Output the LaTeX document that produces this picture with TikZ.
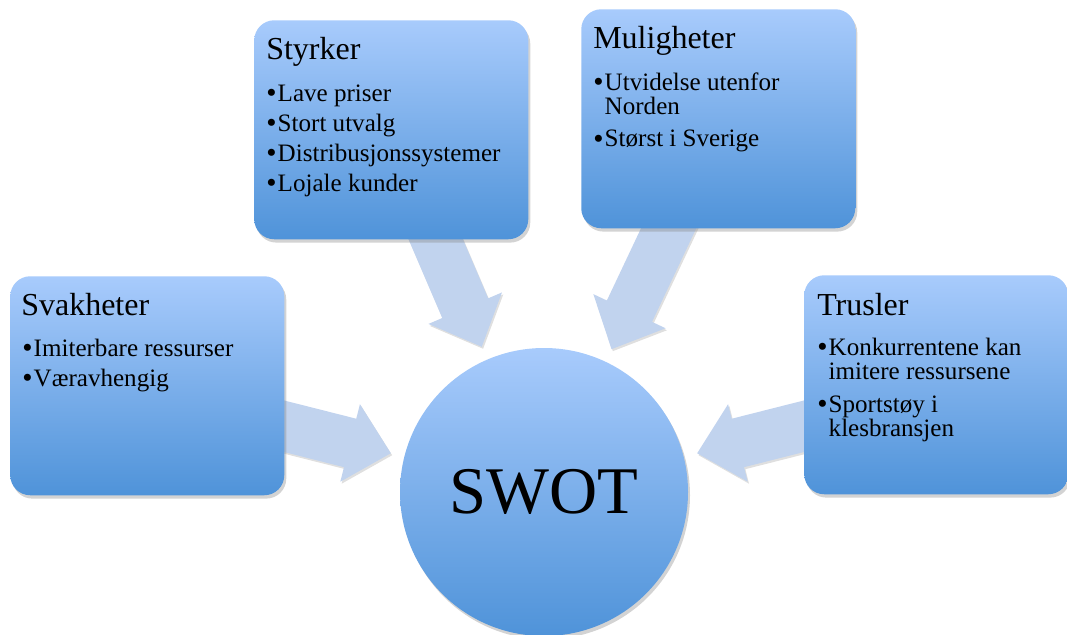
\documentclass[tikz,border=0pt]{standalone}
\usepackage{fontspec}
\setmainfont{Liberation Serif}
\usetikzlibrary{calc,shadows}

\definecolor{boxtop}{RGB}{168,203,252}
\definecolor{boxbottom}{RGB}{79,147,217}
\definecolor{pilfarge}{RGB}{193,211,238}

\newlength{\punktw}
\setlength{\punktw}{8.6pt}
\newcommand{\punkt}[1]{\par\hangindent=\punktw\hangafter=1\noindent
  \makebox[\punktw][l]{\raisebox{-1.4pt}{\fontsize{22}{22}\selectfont•}}#1}
\newcommand{\punkter}[2][4.5pt]{\parbox[t]{190pt}{\raggedright\fontsize{18.8}{18}\selectfont\setlength{\parskip}{#1}#2}}
\newcommand{\swotpil}[1]{%
  \fill[pil, shift={($(swot.center)+(#1:158)$)}, rotate={-180-(#1)}]
    (0,0) -- (-42,40) -- (-42,25) -- (-150,25) -- (-150,-25) -- (-42,-25) -- (-42,-40) -- cycle;}

\begin{document}
\begin{tikzpicture}[x=0.75pt, y=-0.75pt,
    boks/.style={rectangle, rounded corners=15pt, top color=boxtop, bottom color=boxbottom,
      minimum width=205.5pt, minimum height=164.25pt, anchor=north west, inner sep=0pt,
      drop shadow={shadow xshift=1.5pt, shadow yshift=-2.5pt, opacity=0.35}},
    tittel/.style={anchor=base west, inner sep=0pt, font=\fontsize{24}{28}\selectfont},
    liste/.style={anchor=base west, inner sep=0pt},
    pil/.style={fill=pilfarge, drop shadow={shadow xshift=1pt, shadow yshift=-1.5pt, opacity=0.25}}]

\useasboundingbox (0,0) rectangle (1067,635);

\node[circle, minimum size=216pt, inner sep=0pt, top color=boxtop, bottom color=boxbottom,
  drop shadow={shadow xshift=1.5pt, shadow yshift=-2.5pt, opacity=0.35},
  font=\fontsize{50}{60}\selectfont] (swot) at (544,492) {SWOT};

% piler inn mot sirkelen
\swotpil{-113.2}
\swotpil{-64.7}
\swotpil{-165.8}
\swotpil{-14.2}

\node[boks] (styrker) at (254,20) {};
\node[boks] (muligheter) at (581,9) {};
\node[boks] (svakheter) at (10,276) {};
\node[boks, minimum width=198pt] (trusler) at (804,275) {};

\node[tittel] at ($(styrker.north west)+(12,40)$) {Styrker};
\node[liste] at ($(styrker.north west)+(12,81)$)
  {\punkter{\punkt{Lave priser}\punkt{Stort utvalg}\punkt{Distribusjonssystemer}\punkt{Lojale kunder}}};

\node[tittel] at ($(muligheter.north west)+(12,40)$) {Muligheter};
\node[liste] at ($(muligheter.north west)+(12,81)$)
  {\punkter[6.75pt]{\punkt{Utvidelse utenfor\newline Norden}\punkt{Størst i Sverige}}};

\node[tittel] at ($(svakheter.north west)+(11,39)$) {Svakheter};
\node[liste] at ($(svakheter.north west)+(12,80)$)
  {\punkter{\punkt{Imiterbare ressurser}\punkt{Væravhengig}}};

\node[tittel] at ($(trusler.north west)+(13,40)$) {Trusler};
\node[liste] at ($(trusler.north west)+(13,80)$)
  {\punkter[6.75pt]{\punkt{Konkurrentene kan\newline imitere ressursene}\punkt{Sportstøy i\newline klesbransjen}}};

\end{tikzpicture}
\end{document}
